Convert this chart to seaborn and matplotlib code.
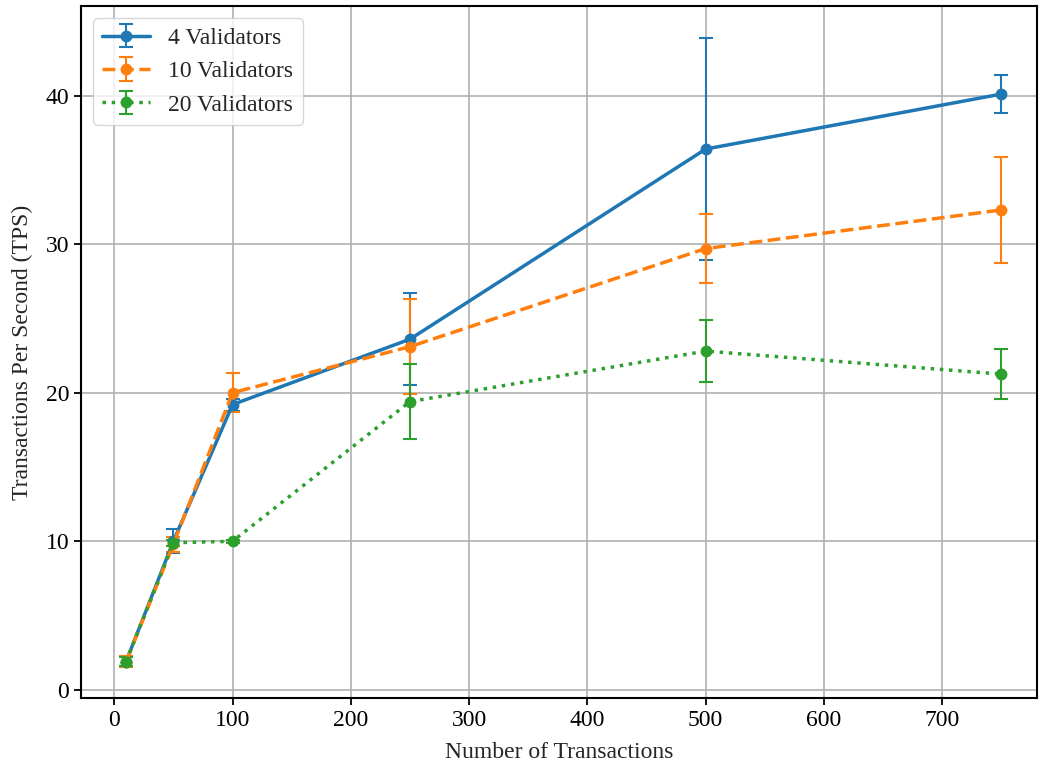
import matplotlib
matplotlib.use("Agg")
import matplotlib.pyplot as plt
import seaborn as sns
import numpy as np

transactions = [10, 50, 100, 250, 500, 750]

tps_4 = [1.9, 10.0, 19.2, 23.6, 36.4, 40.1]
err_4 = [0.3, 0.8, 0.4, 3.1, 7.5, 1.25]

tps_10 = [1.9, 9.8, 20.0, 23.1, 29.7, 32.3]
err_10 = [0.35, 0.5, 1.3, 3.2, 2.35, 3.55]

tps_20 = [1.9, 9.9, 10.0, 19.4, 22.8, 21.25]
err_20 = [0.3, 0.2, 0.1, 2.55, 2.1, 1.7]

labels = ["4 Validators", "10 Validators", "20 Validators"]

sns.set_style("ticks")
plt.rcParams["font.family"] = ["Liberation Serif", "DejaVu Serif"]
plt.rcParams["font.size"] = 17

palette = sns.color_palette("tab10")
fig, ax = plt.subplots(figsize=(10.4, 7.69), dpi=100)
fig.subplots_adjust(left=0.078, right=0.997, top=0.992, bottom=0.092)

series = [(tps_4, err_4, "-"), (tps_10, err_10, "--"), (tps_20, err_20, ":")]
for i, ((vals, errs, ls), lab) in enumerate(zip(series, labels)):
    ax.errorbar(transactions, vals, yerr=errs, label=lab, color=palette[i],
                linestyle=ls, marker="o", markersize=7.5, linewidth=2.5,
                elinewidth=1.5, capsize=5, capthick=1.5)

ax.set_xlim(-28, 780)
ax.set_xlabel("Number of Transactions", labelpad=8)
ax.set_ylabel("Transactions Per Second (TPS)", labelpad=9)
ax.grid(True, color="#b0b0b0", linewidth=1.2)
ax.set_axisbelow(True)
for s in ax.spines.values():
    s.set_linewidth(1.5)
    s.set_color("black")
ax.tick_params(direction="out", length=5, width=1.3, colors="black", labelsize=17)
ax.legend(loc="upper left", fontsize=17)

fig.savefig("out.png", dpi=100)
